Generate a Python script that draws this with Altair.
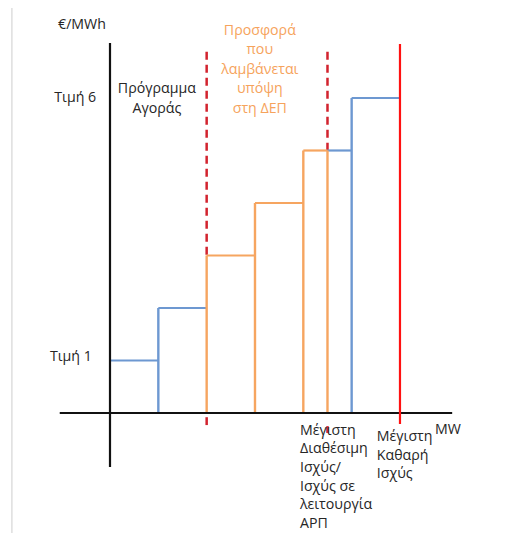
import altair as alt
import pandas as pd

# ---- data (MW positions in abstract units, prices in abstract units) ----
band_start = [0, 1, 2, 3, 4, 4.5, 5]
band_end = [1, 2, 3, 4, 4.5, 5, 6]
band_price = [1, 2, 3, 4, 5, 5, 6]
band_group = ["market", "market", "offer", "offer", "offer", "market", "market"]

riser_x = [1, 2, 3, 4, 4.5, 5]
riser_top = [2, 3, 4, 5, 5, 6]
riser_group = ["market", "offer", "offer", "offer", "offer", "market"]

dashed_x = [2, 4.5]
dash_tail_top = [-0.08, -0.25]
dash_tail_bottom = [-0.23, -0.38]
net_max_x = [6]

groups = ["market", "offer"]
group_colors = ["#6d98d1", "#f6a560"]

# annotations (y = centre of first line)
ann_dark_text = ["€/MWh", "Τιμή 6", "Τιμή 1", "Πρόγραμμα\nΑγοράς", "MW"]
ann_dark_x = [-0.58, -0.72, -0.81, 0.97, 6.99]
ann_dark_y = [7.39, 6.0, 1.07, 6.17, -0.32]

ann_offer_text = ["Προσφορά\nπου\nλαμβάνεται\nυπόψη\nστη ΔΕΠ"]
ann_offer_x = [3.1]
ann_offer_y = [7.28]

ann_left_text = ["Μέγιστη\nΔιαθέσιμη\nΙσχύς/\nΙσχύς σε\nλειτουργία\nΑΡΠ", "Μέγιστη\nΚαθαρή\nΙσχύς"]
ann_left_x = [3.93, 5.52]
ann_left_y = [-0.34, -0.46]

# ---- frames ----
bands = pd.DataFrame({"x": band_start, "x2": band_end, "y": band_price, "g": band_group})
risers = pd.DataFrame({"x": riser_x, "y": [0] * len(riser_x), "y2": riser_top, "g": riser_group})
# dashed limits: visible part above the step riser and a short piece below the MW axis
top_at = dict(zip(riser_x, riser_top))
dash_rows = []
for dx, t0, t1 in zip(dashed_x, dash_tail_top, dash_tail_bottom):
    dash_rows.append({"x": dx, "y": 6.88, "y2": top_at[dx]})
    dash_rows.append({"x": dx, "y": t0, "y2": t1})
dashed = pd.DataFrame(dash_rows)
solid = pd.DataFrame({"x": net_max_x, "y": [-0.21], "y2": [7.03]})
axes_h = pd.DataFrame({"x": [-1.04], "x2": [7.08], "y": [0]})
axes_v = pd.DataFrame({"x": [0], "y": [-1.03], "y2": [7.05]})
frame = pd.DataFrame({"x": [-2.03], "y": [-2.5], "y2": [7.72]})
dark = pd.DataFrame({"x": ann_dark_x, "y": ann_dark_y, "t": ann_dark_text})
offer = pd.DataFrame({"x": ann_offer_x, "y": ann_offer_y, "t": ann_offer_text})
left = pd.DataFrame({"x": ann_left_x, "y": ann_left_y, "t": ann_left_text})

W, H = 499, 525
PX_X, PX_Y = 48.33, 52.5
x0_px, y0_px = 102, 405
xs = alt.Scale(domain=[-x0_px / PX_X, (W - x0_px) / PX_X], nice=False, zero=False)
ys = alt.Scale(domain=[-(H - y0_px) / PX_Y, y0_px / PX_Y], nice=False, zero=False)
cs = alt.Scale(domain=groups, range=group_colors)

X = lambda f="x": alt.X(f"{f}:Q", scale=xs, axis=None)
Y = lambda f="y": alt.Y(f"{f}:Q", scale=ys, axis=None)

frame_l = alt.Chart(frame).mark_rule(color="#dedede", strokeWidth=1.5).encode(
    x=X(), y=Y(), y2="y2:Q")
dash_l = alt.Chart(dashed).mark_rule(color="#d2232e", strokeWidth=2.5, strokeDash=[8, 5]).encode(
    x=X(), y=Y(), y2="y2:Q")
band_l = alt.Chart(bands).mark_rule(strokeWidth=2.2).encode(
    x=X(), x2="x2:Q", y=Y(), color=alt.Color("g:N", scale=cs, legend=None))
riser_l = alt.Chart(risers).mark_rule(strokeWidth=2.4).encode(
    x=X(), y=Y(), y2="y2:Q", color=alt.Color("g:N", scale=cs, legend=None))
axh_l = alt.Chart(axes_h).mark_rule(color="#111111", strokeWidth=2.2).encode(
    x=X(), x2="x2:Q", y=Y())
axv_l = alt.Chart(axes_v).mark_rule(color="#111111", strokeWidth=2.2).encode(
    x=X(), y=Y(), y2="y2:Q")
solid_l = alt.Chart(solid).mark_rule(color="#ff1111", strokeWidth=2.2).encode(
    x=X(), y=Y(), y2="y2:Q")

FONT = "Open Sans"
FS = 14.2
LH = 19.5
dark_l = alt.Chart(dark).mark_text(font=FONT, fontSize=FS, color="#262626", align="center",
                                   baseline="middle", lineBreak="\n", lineHeight=LH).encode(
    x=X(), y=Y(), text="t:N")
offer_l = alt.Chart(offer).mark_text(font=FONT, fontSize=FS, color="#f6a35c", align="center",
                                     baseline="middle", lineBreak="\n", lineHeight=LH).encode(
    x=X(), y=Y(), text="t:N")
left_l = alt.Chart(left).mark_text(font=FONT, fontSize=FS, color="#262626", align="left",
                                   baseline="middle", lineBreak="\n", lineHeight=18.6).encode(
    x=X(), y=Y(), text="t:N")

chart = alt.layer(frame_l, dash_l, band_l, riser_l, axh_l, axv_l, solid_l,
                  dark_l, offer_l, left_l).properties(
    width=W, height=H, autosize=alt.AutoSizeParams(type="none"), padding=0
).configure_view(strokeWidth=0)

chart.save("out.html", embed_options={"renderer": "svg", "actions": False})
